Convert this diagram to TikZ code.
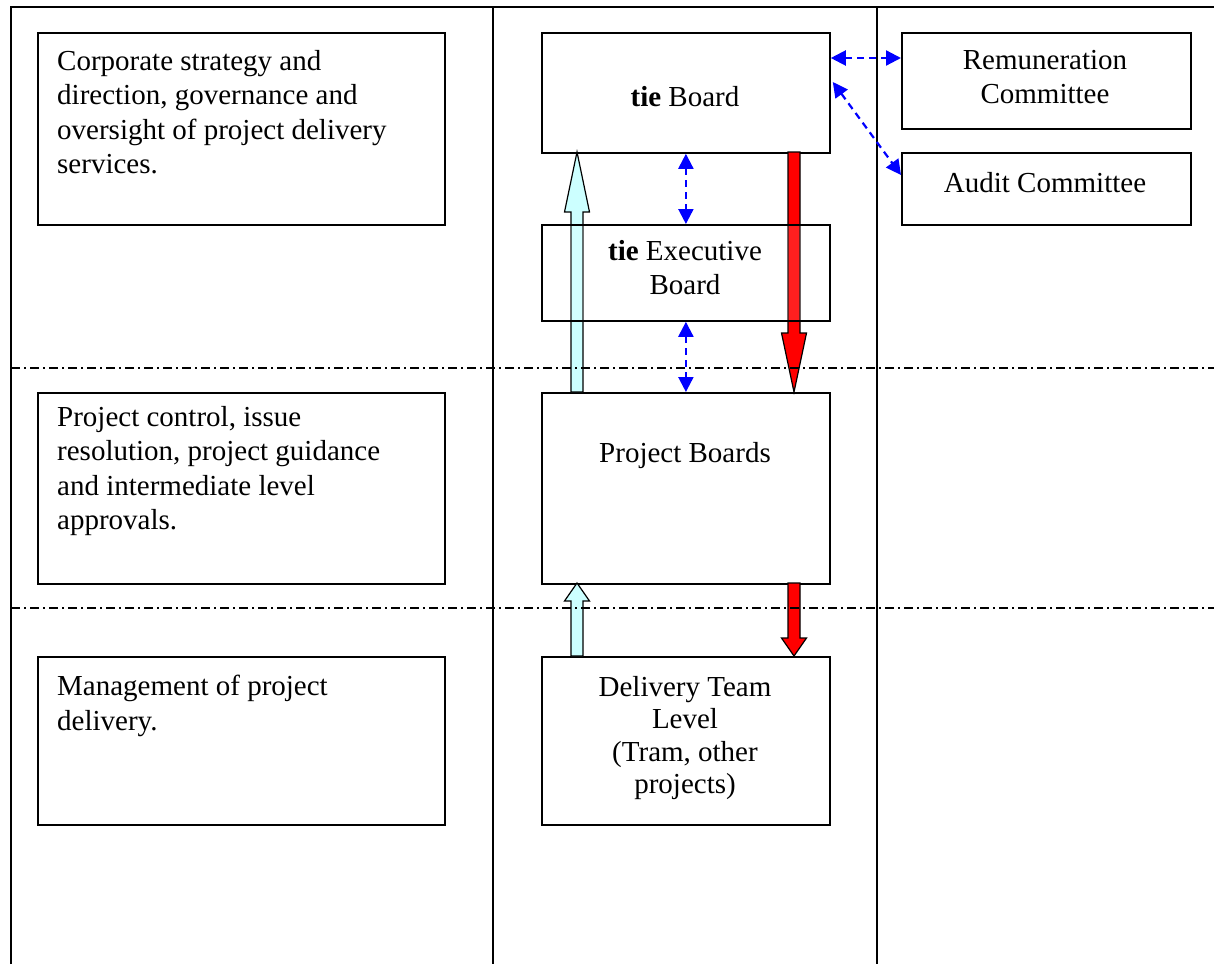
\documentclass[tikz,border=0pt]{standalone}
\usepackage{fontspec}
\setmainfont{Liberation Serif}
\usetikzlibrary{arrows.meta,calc}
\newcommand\blockarr[5]{%
  \filldraw[fill=#1,draw=black,line width=1.2pt,line join=miter]
    ({#2-6},#3) -- ({#2-6},#4) -- ({#2-12.5},#4) -- (#2,#5) -- ({#2+12.5},#4) -- ({#2+6},#4) -- ({#2+6},#3) -- cycle;}
\definecolor{upcol}{HTML}{CCFFFF}
\definecolor{downcol}{HTML}{FF0000}
\definecolor{linkblue}{HTML}{0000FF}
\begin{document}
\begin{tikzpicture}[x=1pt,y=-1pt,
  frame/.style={line width=2pt},
  box/.style={draw,line width=1.8pt,inner sep=0pt,anchor=north west,fill=white},
  txt/.style={font=\fontsize{29}{34.5}\selectfont,inner sep=0pt},
  sep/.style={line width=1.4pt,dash pattern=on 9pt off 4pt on 2pt off 4pt},
  link/.style={linkblue,line width=2.2pt,dash pattern=on 7pt off 5pt,
    {Triangle[length=15pt,width=15pt]}-{Triangle[length=15pt,width=15pt]}}]
\useasboundingbox (0,0) rectangle (1214,964);
% frame
\draw[frame] (11,964) -- (11,7) -- (1214,7);
\draw[frame] (493,7) -- (493,964);
\draw[frame] (877,7) -- (877,964);
% boxes
\node[box,minimum width=407pt,minimum height=192pt] (L1) at (37,32) {};
\node[box,minimum width=407pt,minimum height=191pt] (L2) at (37,392) {};
\node[box,minimum width=407pt,minimum height=168pt] (L3) at (37,656) {};
\node[box,minimum width=288pt,minimum height=120pt] (TB) at (541,32) {};
\node[box,minimum width=288pt,minimum height=191pt] (PB) at (541,392) {};
\node[box,minimum width=288pt,minimum height=168pt] (DT) at (541,656) {};
\node[box,minimum width=289pt,minimum height=96pt] (RC) at (901,32) {};
\node[box,minimum width=289pt,minimum height=72pt] (AC) at (901,152) {};
% block arrows
\blockarr{upcol}{577}{392}{212}{152}
\blockarr{upcol}{577}{656}{601}{583}
\blockarr{downcol}{794}{152}{333}{392}
\blockarr{downcol}{794}{583}{638}{656}
\node[box,fill opacity=0.12,minimum width=288pt,minimum height=96pt] (EB) at (541,224) {};
% separators
\draw[sep] (11,368) -- (1214,368);
\draw[sep] (11,608) -- (1214,608);
% links
\draw[link] (TB.south) -- (EB.north);
\draw[link] (EB.south) -- (PB.north);
\draw[link] ($(TB.north east)+(0,26)$) -- ($(RC.north west)+(0,26)$);
\draw[link] ($(TB.north east)+(2,50)$) -- ($(AC.north west)+(0,23)$);
% texts
\node[txt,anchor=north west,align=left] (t1) at (57,50) {Corporate strategy and\\direction, governance and\\oversight of project delivery\\services.};
\node[txt,anchor=north west,align=left] (t2) at (57,406) {Project control, issue\\resolution, project guidance\\and intermediate level\\approvals.};
\node[txt,anchor=north west,align=left] (t3) at (57,675) {Management of project\\delivery.};
\node[txt,anchor=base] (t4) at (685,106) {\textbf{tie} Board};
\node[txt,anchor=north,align=center] (t5) at (685,240) {\textbf{tie} Executive\\Board};
\node[txt,anchor=base] (t6) at (685,462) {Project Boards};
\node[txt,anchor=north,align=center,font=\fontsize{29}{32.5}\selectfont] (t7) at (685,676) {Delivery Team\\Level\\(Tram, other\\projects)};
\node[txt,anchor=north,align=center] (t8) at (1045,50) {Remuneration\\Committee};
\node[txt,anchor=base] (t9) at (1045,192) {Audit Committee};
\end{tikzpicture}
\end{document}
